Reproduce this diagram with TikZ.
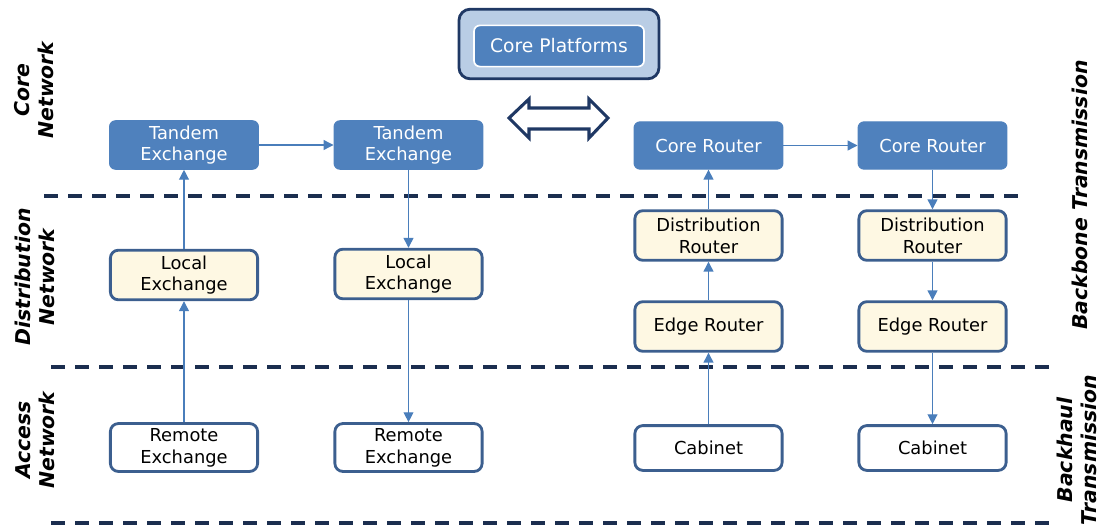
\documentclass[tikz,border=0pt]{standalone}
\usepackage{fontspec}
\setmainfont{DejaVu Sans}
\usetikzlibrary{arrows.meta}

\begin{document}
\begin{tikzpicture}[x=0.025cm, y=-0.025cm, thick]

  % Define Colors
  \definecolor{boxblue}{HTML}{4F81BD}
  \definecolor{paleblue}{HTML}{B9CDE5}
  \definecolor{navy}{HTML}{1F3864}
  \definecolor{dashnavy}{HTML}{1B2E4F}
  \definecolor{edgeblue}{HTML}{3C5F8F}
  \definecolor{cream}{HTML}{FEF8E3}
  \definecolor{linkblue}{HTML}{4A7EBB}

  \useasboundingbox (0,0) rectangle (1103,526);

  % Node styles
  \tikzstyle{core}=[rectangle, rounded corners=0.15cm, fill=boxblue, draw=boxblue, text=white, minimum width=3.72cm, minimum height=1.18cm, align=center, font=\fontsize{12.7}{15.5}\selectfont]
  \tikzstyle{dist}=[rectangle, rounded corners=0.2cm, fill=cream, draw=edgeblue, line width=2pt, minimum width=3.68cm, minimum height=1.24cm, align=center, font=\fontsize{12.7}{15.5}\selectfont]
  \tikzstyle{acc}=[rectangle, rounded corners=0.2cm, fill=white, draw=edgeblue, line width=2pt, minimum width=3.68cm, minimum height=1.12cm, align=center, font=\fontsize{12.7}{15.5}\selectfont]
  \tikzstyle{link}=[linkblue, line width=0.9pt, -{Triangle[length=7pt, width=7pt]}]
  \tikzstyle{sep}=[dashnavy, line width=2.6pt, dash pattern=on 0.35cm off 0.25cm]
  \tikzstyle{layer}=[font=\fontsize{14.5}{17}\selectfont\bfseries\itshape, align=center, rotate=90]

  % Platforms
  \node[rectangle, rounded corners=0.28cm, fill=paleblue, draw=navy, line width=2pt, minimum width=5.0cm, minimum height=1.74cm] (platbox) at (559,44) {};
  \node[rectangle, rounded corners=0.15cm, fill=boxblue, draw=white, line width=1.2pt, minimum width=4.25cm, minimum height=1.03cm, text=white, font=\fontsize{13.3}{15.5}\selectfont] (plat) at (559,46) {Core Platforms};
  \draw[navy, line width=2.2pt, fill=white, line join=miter] (509,118) -- (529,99) -- (529,108) -- (589,108) -- (589,99) -- (608,118) -- (589,138) -- (589,129) -- (529,129) -- (529,138) -- cycle;

  % Nodes
  \node[core] (tandem_1) at (184,145) {Tandem\\Exchange};
  \node[core] (tandem_2) at (408.5,145) {Tandem\\Exchange};
  \node[core] (crouter_1) at (708.5,145.5) {Core Router};
  \node[core] (crouter_2) at (932.5,145.5) {Core Router};

  \node[dist] (local_1) at (184,275) {Local\\Exchange};
  \node[dist] (local_2) at (408.5,274) {Local\\Exchange};
  \node[dist] (drouter_1) at (708.5,235.5) {Distribution\\Router};
  \node[dist] (drouter_2) at (932.5,235.5) {Distribution\\Router};
  \node[dist] (erouter_1) at (708.5,326.5) {Edge Router};
  \node[dist] (erouter_2) at (932.5,326.5) {Edge Router};

  \node[acc] (remote_1) at (184,447.5) {Remote\\Exchange};
  \node[acc] (remote_2) at (408.5,447.5) {Remote\\Exchange};
  \node[acc] (cabinet_1) at (708.5,448) {Cabinet};
  \node[acc] (cabinet_2) at (932.5,448) {Cabinet};

  % Separators
  \draw[sep] (44,196) -- (1027,196);
  \draw[sep] (51,367) -- (1058,367);
  \draw[sep] (51,523) -- (1058,523);

  % Links
  \draw[link] (remote_1) -- (local_1);
  \draw[link] (local_1) -- (tandem_1);
  \draw[link] (tandem_1) -- (tandem_2);
  \draw[link] (tandem_2) -- (local_2);
  \draw[link] (local_2) -- (remote_2);

  \draw[link] (cabinet_1) -- (erouter_1);
  \draw[link] (erouter_1) -- (drouter_1);
  \draw[link] (drouter_1) -- (crouter_1);
  \draw[link] (crouter_1) -- (crouter_2);
  \draw[link] (crouter_2) -- (drouter_2);
  \draw[link] (drouter_2) -- (erouter_2);
  \draw[link] (erouter_2) -- (cabinet_2);

  % Layer labels
  \node[layer] (l_core) at (34,90) {Core\\Network};
  \node[layer] (l_dist) at (35,277) {Distribution\\Network};
  \node[layer] (l_acc) at (35,440) {Access\\Network};
  \node[layer] (l_bone) at (1080,195) {Backbone Transmission};
  \node[layer] (l_haul) at (1077,450) {Backhaul\\Transmission};

\end{tikzpicture}
\end{document}
